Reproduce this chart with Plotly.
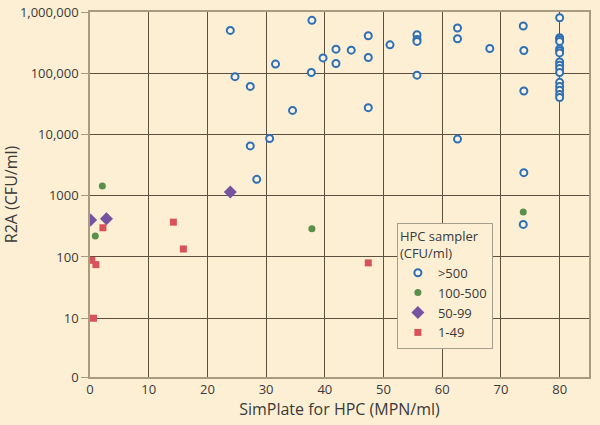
"""SimPlate for HPC vs R2A scatter, grouped by HPC sampler class"""
import plotly.graph_objects as go

# >500 CFU/ml
x_gt500 = [23.9, 37.8, 47.4, 51.1, 41.9, 44.5, 39.7, 41.9, 47.4, 31.6, 37.7, 24.7, 27.3,
           34.5, 47.4, 30.6, 27.3, 28.4,
           55.7, 55.7, 55.7, 55.7, 62.6, 62.6, 62.6, 68.1, 73.8, 73.9, 73.9, 73.9, 73.8,
           80, 80, 80, 80, 80, 80, 80, 80, 80, 80, 80, 80, 80, 80, 80, 80]
y_gt500 = [500000, 731000, 409000, 291000, 247000, 238000, 178000, 144000, 181000, 141000,
           103000, 88000, 61000, 24700, 27400, 8600, 6500, 1850,
           425000, 357000, 331000, 93000, 547000, 366000, 8400, 254000, 590000, 235000,
           51300, 2380, 340,
           807000, 379000, 357000, 331000, 250000, 232000, 215000, 153000, 135000, 119000,
           103000, 71000, 61000, 53000, 45000, 40000, 13000]

# 100-500 CFU/ml
x_100_500 = [2.1, 0.9, 37.8, 73.8]
y_100_500 = [1440, 220, 290, 540]

# 50-99 CFU/ml
x_50_99 = [0.1, 2.8, 23.9]
y_50_99 = [400, 420, 1150]

# 1-49 CFU/ml
x_1_49 = [2.2, 0.3, 1.0, 0.6, 14.2, 15.9, 47.4]
y_1_49 = [300, 88, 75, 10, 370, 135, 80]

x_ticks = [0, 10, 20, 30, 40, 50, 60, 70, 80]
y_tickvals = [10 ** 0.04, 10, 100, 1000, 10000, 100000, 1000000]
y_ticktext = ["0", "10", "100", "1000", "10,000", "100,000", "1,000,000"]

BG = "#fdefd3"
GRID = "#5e503e"
AXIS = "#a89b82"
TEXT = "#3a3a3a"

fig = go.Figure()
fig.add_trace(go.Scatter(
    x=x_gt500, y=y_gt500, mode="markers", name=">500",
    marker=dict(symbol="circle", size=7, color="#fbf4e6",
                line=dict(color="#2f6fb3", width=2)),
))
fig.add_trace(go.Scatter(
    x=x_100_500, y=y_100_500, mode="markers", name="100-500",
    marker=dict(symbol="circle", size=7, color="#5b8f4c"),
))
fig.add_trace(go.Scatter(
    x=x_50_99, y=y_50_99, mode="markers", name="50-99",
    marker=dict(symbol="diamond", size=10, color="#7752a1"),
))
fig.add_trace(go.Scatter(
    x=x_1_49, y=y_1_49, mode="markers", name="1-49",
    marker=dict(symbol="square", size=7, color="#d8525a"),
))

fig.update_layout(
    width=600,
    height=425,
    margin=dict(l=90, r=11, t=12, b=48, autoexpand=False),
    paper_bgcolor=BG,
    plot_bgcolor=BG,
    font=dict(family="Open Sans", size=13, color=TEXT),
    legend=dict(
        title=dict(text="HPC sampler<br>(CFU/ml)", font=dict(size=13)),
        x=0.615, y=0.422, xanchor="left", yanchor="top",
        bgcolor=BG, bordercolor="#a49c8c", borderwidth=1,
        font=dict(size=13), itemwidth=30, tracegroupgap=0,
    ),
)

fig.update_xaxes(
    range=[0, 85],
    tickvals=x_ticks,
    showgrid=True, gridcolor=GRID, gridwidth=1,
    showline=True, linecolor=AXIS, linewidth=1.5, mirror=True,
    zeroline=False, ticks="", automargin=False,
    title=dict(text="SimPlate for HPC (MPN/ml)", standoff=4),
)
fig.update_yaxes(
    type="log",
    range=[0.04, 6],
    tickvals=y_tickvals,
    ticktext=y_ticktext,
    showgrid=True, gridcolor=GRID, gridwidth=1,
    showline=True, linecolor=AXIS, linewidth=1.5, mirror=True,
    zeroline=False, ticks="outside", ticklen=7, tickcolor=AXIS,
    automargin=False,
    title=dict(text="R2A (CFU/ml)", standoff=6),
)

# the page body has a default 8px margin; drop it so the figure fills the window
fig.write_html(
    "out.html",
    config={"displayModeBar": False},
    post_script="document.body.style.margin='0';document.body.style.background='%s';" % BG,
)
